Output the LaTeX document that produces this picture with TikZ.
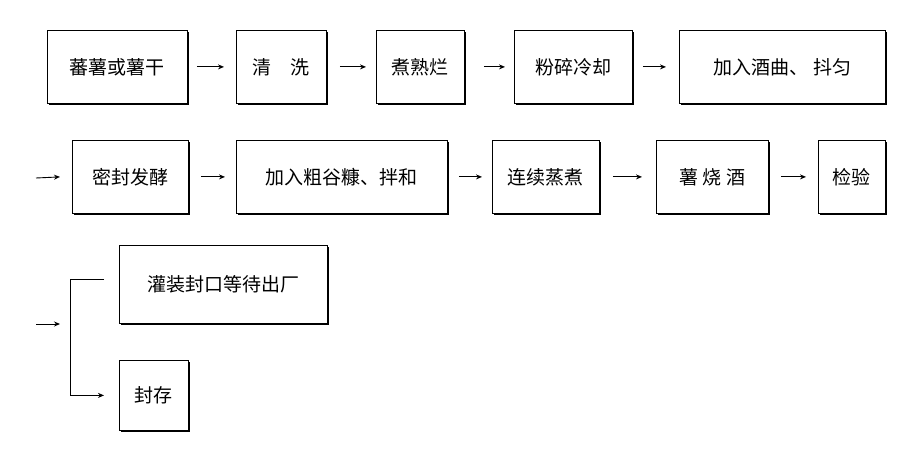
\documentclass[tikz,border=0pt]{standalone}
\usepackage{fontspec}
\setmainfont{Noto Sans CJK SC}
\usetikzlibrary{shadows,arrows.meta}
\begin{document}
\begin{tikzpicture}[x=1pt,y=-1pt,
  box/.style={draw,line width=0.8pt,fill=white,anchor=north west,inner sep=0pt,font=\fontsize{19}{20}\selectfont,
    drop shadow={shadow xshift=1.2pt,shadow yshift=-1.2pt,fill=black,opacity=1}},
  arr/.style={-{Stealth[length=6pt,width=5pt]},line width=0.9pt}]
\useasboundingbox (0,0) rectangle (923,464);
\newcommand\bx[6]{\node[box,minimum width=#3-#2,minimum height=#5-#4] (#1) at (#2,#4) {#6};}
\bx{a}{47}{187}{30}{103}{蕃薯或薯干}
\bx{b}{236}{326}{30}{103}{清\quad 洗}
\bx{c}{376}{464}{30}{103}{煮熟烂}
\bx{d}{514}{632}{30}{103}{粉碎冷却}
\bx{e}{679}{885}{30}{103}{加入酒曲、\ 抖匀}
\bx{f}{72}{188}{140}{213}{密封发酵}
\bx{g}{236}{447}{140}{213}{加入粗谷糠、拌和}
\bx{h}{492}{599}{140}{213}{连续蒸煮}
\bx{i}{656}{768}{140}{213}{薯\ 烧\ 酒}
\bx{j}{818}{885}{140}{213}{检验}
\bx{k}{119}{327}{245}{323}{灌装封口等待出厂}
\bx{l}{119}{188}{360}{430}{封存}
\draw[arr] ([xshift=9pt]a.east) -- ([xshift=-12pt]b.west);
\draw[arr] ([xshift=13pt]b.east) -- ([xshift=-10pt]c.west);
\draw[arr] ([xshift=19pt]c.east) -- ([xshift=-9pt]d.west);
\draw[arr] ([xshift=10pt]d.east) -- ([xshift=-13pt]e.west);
\coordinate (s1) at (36,178);
\draw[arr] (s1) -- ([xshift=-12pt]f.west);
\draw[arr] ([xshift=12pt]f.east) -- ([xshift=-11pt]g.west);
\draw[arr] ([xshift=11pt]g.east) -- ([xshift=-10pt]h.west);
\draw[arr] ([xshift=13pt]h.east) -- ([xshift=-14pt]i.west);
\draw[arr] ([xshift=12pt]i.east) -- ([xshift=-12pt]j.west);
\coordinate (s2) at (36,324);
\coordinate (v) at (60,324);
\draw[arr] (s2) -- (v);
\draw[arr,line width=0.7pt] ([xshift=-15pt,yshift=5pt]k.west) -- ++(-34,0) |- ([xshift=-15pt]l.west);
\end{tikzpicture}
\end{document}
